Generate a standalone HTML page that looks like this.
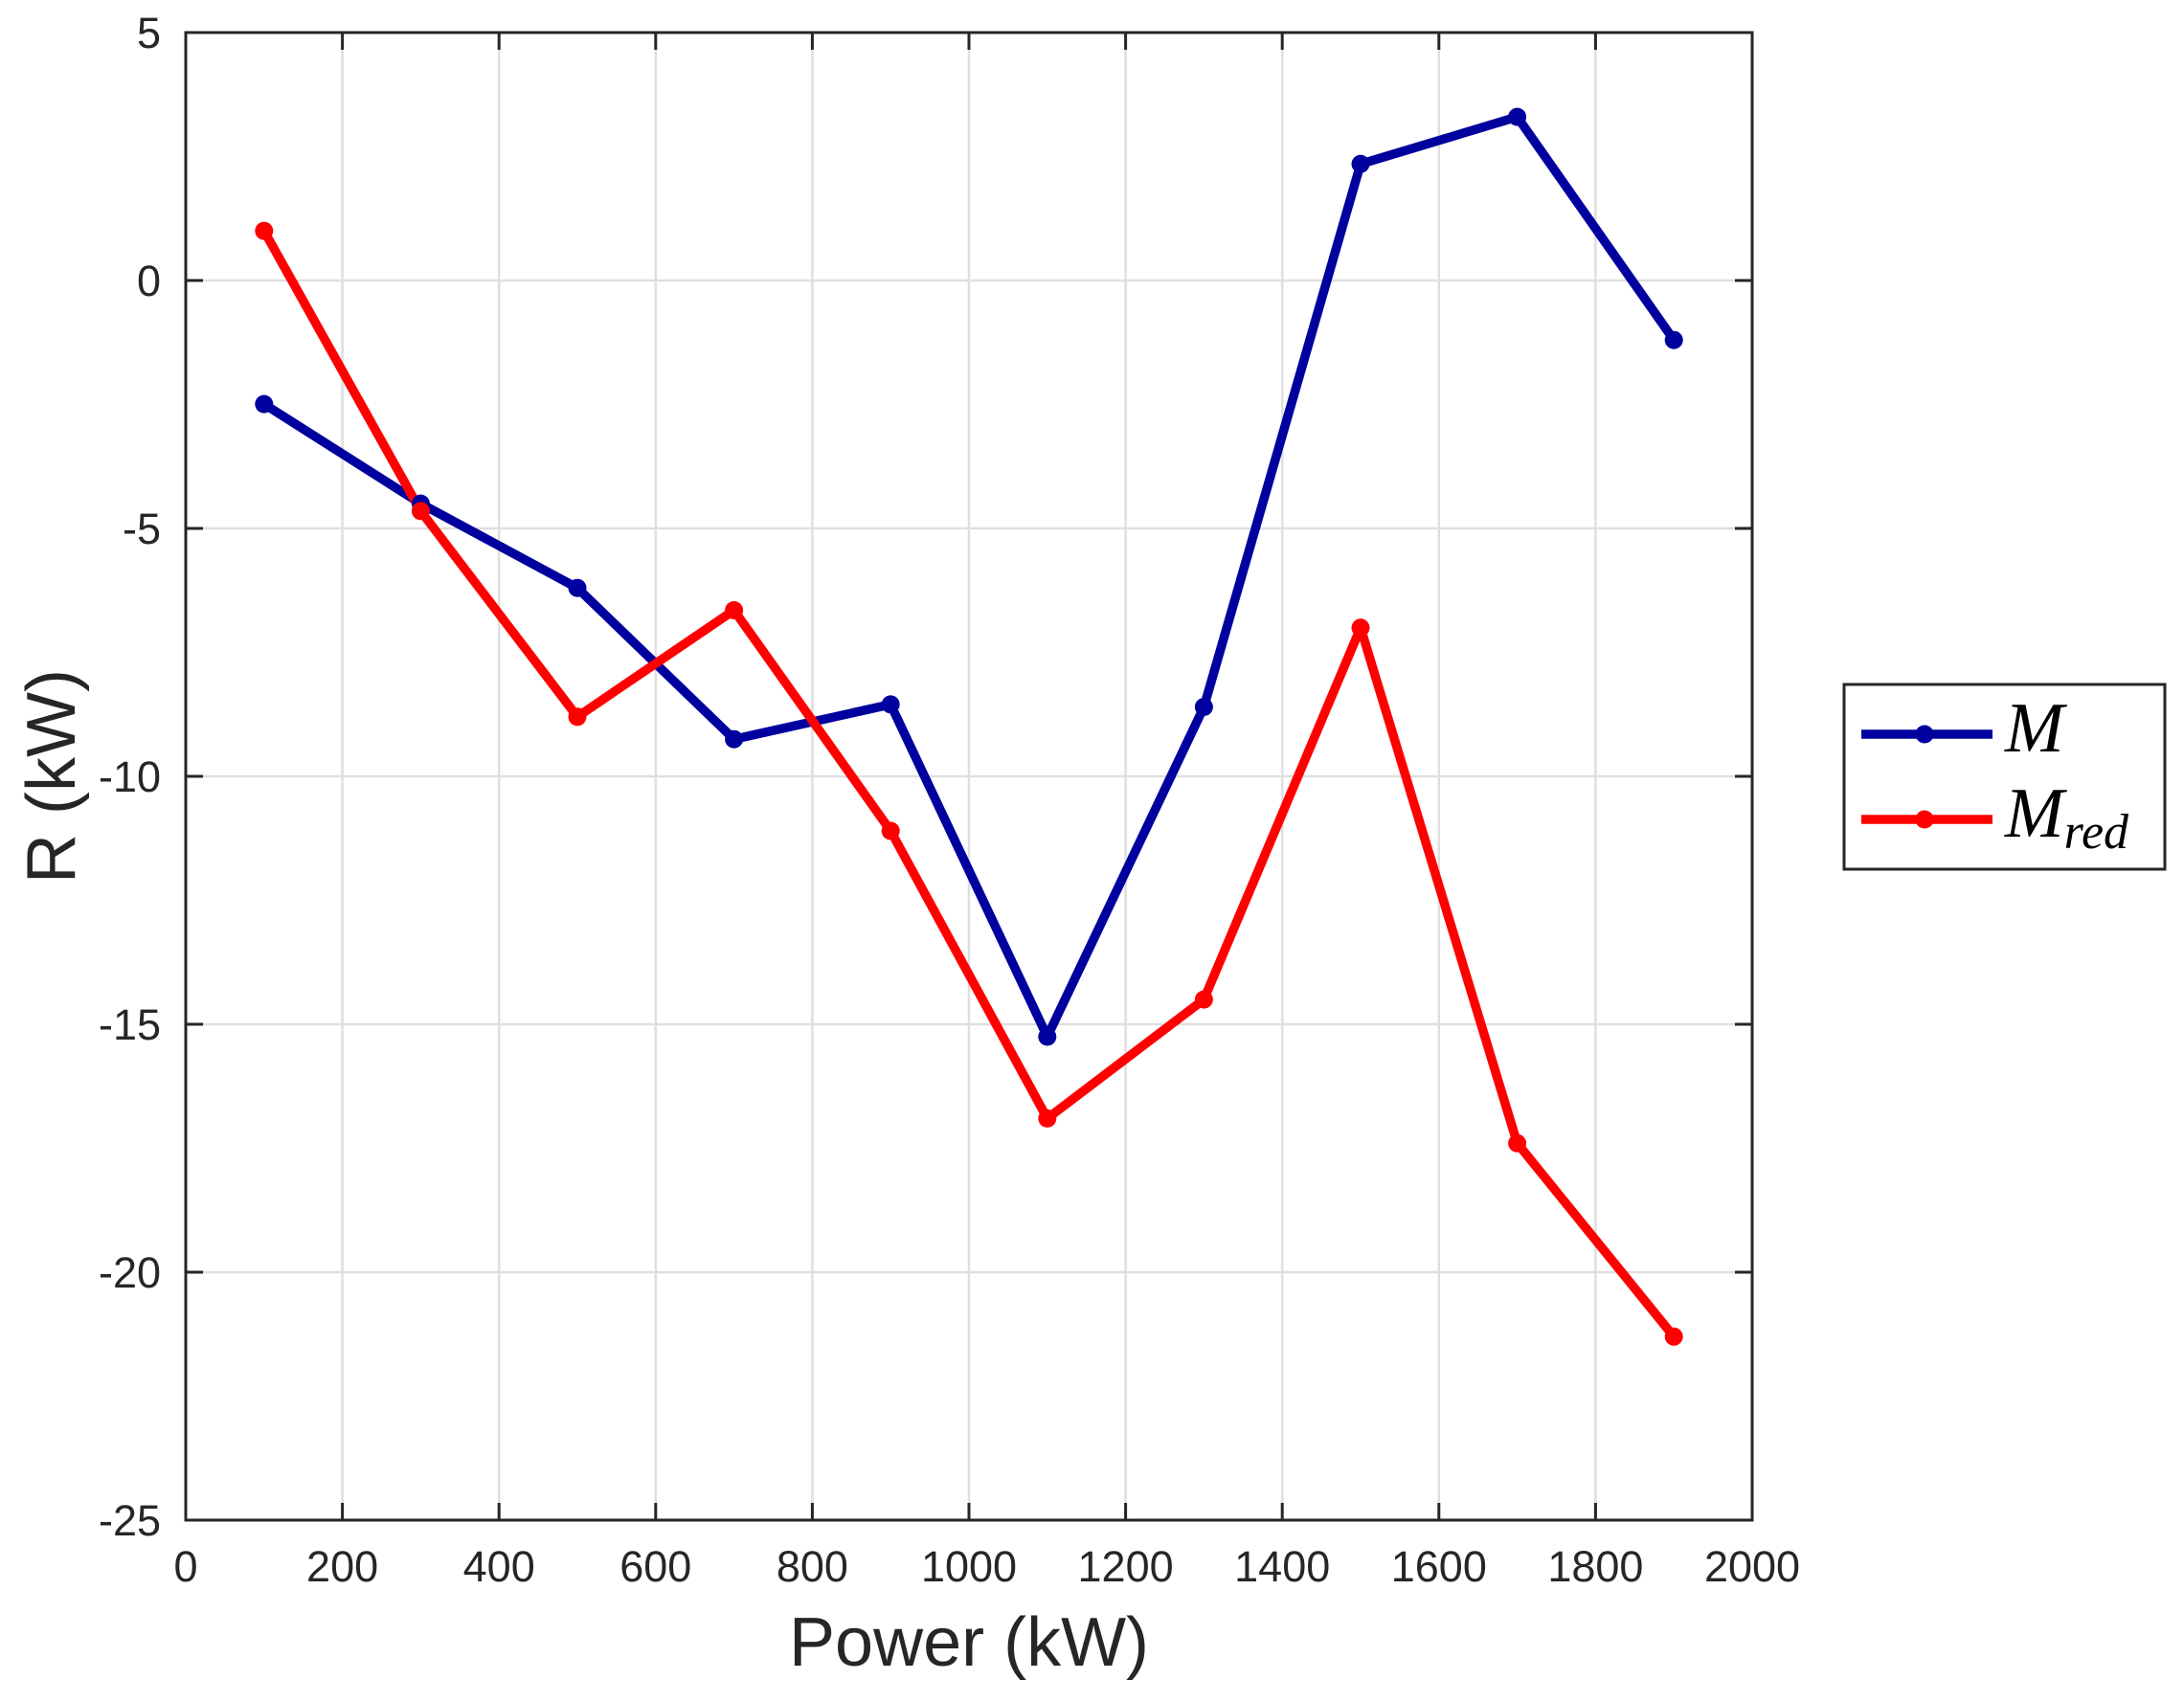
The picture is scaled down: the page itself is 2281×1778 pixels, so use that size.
<!DOCTYPE html>
<html><head><meta charset="utf-8"><style>
html,body{margin:0;padding:0;background:#fff;}
svg{display:block;}
text{font-family:"Liberation Sans",sans-serif;fill:#262626;}
</style></head><body>
<svg width="2281" height="1778" viewBox="0 0 2281 1778" xmlns="http://www.w3.org/2000/svg">
<rect width="2281" height="1778" fill="#fff"/>
<g stroke="#dfdfdf" stroke-width="2.5">
<line x1="357.6" y1="34" x2="357.6" y2="1588"/><line x1="521.2" y1="34" x2="521.2" y2="1588"/>
<line x1="684.8" y1="34" x2="684.8" y2="1588"/><line x1="848.4" y1="34" x2="848.4" y2="1588"/>
<line x1="1012" y1="34" x2="1012" y2="1588"/><line x1="1175.6" y1="34" x2="1175.6" y2="1588"/>
<line x1="1339.2" y1="34" x2="1339.2" y2="1588"/><line x1="1502.8" y1="34" x2="1502.8" y2="1588"/>
<line x1="1666.4" y1="34" x2="1666.4" y2="1588"/>
<line x1="194" y1="293" x2="1830" y2="293"/><line x1="194" y1="552" x2="1830" y2="552"/>
<line x1="194" y1="811" x2="1830" y2="811"/><line x1="194" y1="1070" x2="1830" y2="1070"/>
<line x1="194" y1="1329" x2="1830" y2="1329"/>
</g>
<g stroke="#262626" stroke-width="3">
<rect x="194" y="34" width="1636" height="1554" fill="none"/>
<path d="M357.6 34v18M521.2 34v18M684.8 34v18M848.4 34v18M1012 34v18M1175.6 34v18M1339.2 34v18M1502.8 34v18M1666.4 34v18
M357.6 1588v-18M521.2 1588v-18M684.8 1588v-18M848.4 1588v-18M1012 1588v-18M1175.6 1588v-18M1339.2 1588v-18M1502.8 1588v-18M1666.4 1588v-18
M194 293h18M194 552h18M194 811h18M194 1070h18M194 1329h18
M1830 293h-18M1830 552h-18M1830 811h-18M1830 1070h-18M1830 1329h-18"/>
</g>
<g font-size="45" text-anchor="end">
<text x="168" y="50">5</text><text x="168" y="309">0</text><text x="168" y="568">-5</text>
<text x="168" y="827">-10</text><text x="168" y="1086">-15</text><text x="168" y="1345">-20</text>
<text x="168" y="1604">-25</text>
</g>
<g font-size="45" text-anchor="middle">
<text x="194" y="1652">0</text><text x="357.6" y="1652">200</text><text x="521.2" y="1652">400</text>
<text x="684.8" y="1652">600</text><text x="848.4" y="1652">800</text><text x="1012" y="1652">1000</text>
<text x="1175.6" y="1652">1200</text><text x="1339.2" y="1652">1400</text><text x="1502.8" y="1652">1600</text>
<text x="1666.4" y="1652">1800</text><text x="1830" y="1652">2000</text>
</g>
<text x="1012" y="1740" font-size="72" text-anchor="middle">Power (kW)</text>
<text transform="translate(78,811) rotate(-90)" font-size="72" text-anchor="middle">R (kW)</text>
<g fill="none" stroke-width="9.5" stroke-linejoin="round">
<polyline stroke="#00009F" points="275.8,422.1 439.4,526.1 603,614.2 766.6,772.2 930.2,735.9 1093.8,1083 1257.4,738.5 1421,171.3 1584.6,122.1 1748.2,355.2"/>
<polyline stroke="#FF0000" points="275.8,241.2 439.4,533.9 603,748.8 766.6,637.5 930.2,868 1093.8,1168.4 1257.4,1044.1 1421,655.8 1584.6,1194.3 1748.2,1396.3"/>
</g>
<g fill="#00009F">
<circle cx="275.8" cy="422.1" r="9.5"/><circle cx="439.4" cy="526.1" r="9.5"/><circle cx="603" cy="614.2" r="9.5"/>
<circle cx="766.6" cy="772.2" r="9.5"/><circle cx="930.2" cy="735.9" r="9.5"/><circle cx="1093.8" cy="1083" r="9.5"/>
<circle cx="1257.4" cy="738.5" r="9.5"/><circle cx="1421" cy="171.3" r="9.5"/><circle cx="1584.6" cy="122.1" r="9.5"/>
<circle cx="1748.2" cy="355.2" r="9.5"/>
</g>
<g fill="#FF0000">
<circle cx="275.8" cy="241.2" r="9.5"/><circle cx="439.4" cy="533.9" r="9.5"/><circle cx="603" cy="748.8" r="9.5"/>
<circle cx="766.6" cy="637.5" r="9.5"/><circle cx="930.2" cy="868" r="9.5"/><circle cx="1093.8" cy="1168.4" r="9.5"/>
<circle cx="1257.4" cy="1044.1" r="9.5"/><circle cx="1421" cy="655.8" r="9.5"/><circle cx="1584.6" cy="1194.3" r="9.5"/>
<circle cx="1748.2" cy="1396.3" r="9.5"/>
</g>
<rect x="1926" y="715" width="335" height="193" fill="#fff" stroke="#262626" stroke-width="3"/>
<line x1="1944" y1="767" x2="2081" y2="767" stroke="#00009F" stroke-width="9.5"/>
<circle cx="2010" cy="767" r="9.5" fill="#00009F"/>
<line x1="1944" y1="856" x2="2081" y2="856" stroke="#FF0000" stroke-width="9.5"/>
<circle cx="2010" cy="856" r="9.5" fill="#FF0000"/>
<text x="2094" y="785" font-size="74" font-style="italic" style="fill:#000;font-family:'Liberation Serif',serif">M</text>
<text x="2094" y="874" font-size="74" font-style="italic" style="fill:#000;font-family:'Liberation Serif',serif">M<tspan font-size="52" dy="12">red</tspan></text>
</svg>
</body></html>
